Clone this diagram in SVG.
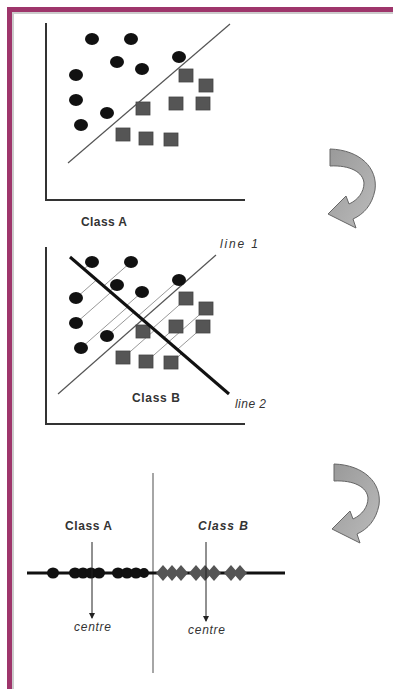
<svg xmlns="http://www.w3.org/2000/svg" width="393" height="689" viewBox="0 0 393 689">
<defs>
<style>
.axis{stroke:#333;stroke-width:2;fill:none}
.sep{stroke:#555;stroke-width:1.2;fill:none}
.proj{stroke:#999;stroke-width:1;fill:none}
.c{fill:#111}
.s{fill:#555;stroke:#444;stroke-width:0.8}
.d{fill:#555}
.lbl{font-family:"Liberation Sans",Arial,sans-serif;font-weight:bold;font-size:12px;fill:#333}
.it{font-family:"Liberation Sans",Arial,sans-serif;font-style:italic;font-size:12px;fill:#333}
.curve{fill:url(#g);stroke:#666;stroke-width:1}
</style>
<linearGradient id="g" x1="0" y1="0" x2="1" y2="1">
<stop offset="0" stop-color="#999"/>
<stop offset="1" stop-color="#bbb"/>
</linearGradient>
<marker id="ah" markerWidth="6" markerHeight="6" refX="5" refY="3" orient="auto" markerUnits="userSpaceOnUse">
<path d="M0,0 L6,3 L0,6 Z" fill="#222"/>
</marker>
<g id="dots">
<ellipse class="c" cx="92" cy="39" rx="7" ry="6"/>
<ellipse class="c" cx="131" cy="39" rx="7" ry="6"/>
<ellipse class="c" cx="117" cy="62" rx="7" ry="6"/>
<ellipse class="c" cx="142" cy="69" rx="7" ry="6"/>
<ellipse class="c" cx="179" cy="57" rx="7" ry="6"/>
<ellipse class="c" cx="76" cy="75" rx="7" ry="6"/>
<ellipse class="c" cx="76" cy="100" rx="7" ry="6"/>
<ellipse class="c" cx="107" cy="113" rx="7" ry="6"/>
<ellipse class="c" cx="81" cy="125" rx="7" ry="6"/>
<rect class="s" x="179" y="69" width="14" height="13"/>
<rect class="s" x="199" y="79" width="14" height="13"/>
<rect class="s" x="136" y="102" width="14" height="13"/>
<rect class="s" x="169" y="97" width="14" height="13"/>
<rect class="s" x="196" y="97" width="14" height="13"/>
<rect class="s" x="116" y="128" width="14" height="13"/>
<rect class="s" x="139" y="132" width="14" height="13"/>
<rect class="s" x="164" y="133" width="14" height="13"/>
</g>
<path id="curl" class="curve" d="M330,149 C360,150 378,168 375,190 C372,205 364,214 353,219 L356,228 L328,214 L346,196 L349,204 C358,200 364,192 364,183 C363,172 350,165 330,166 Z"/>
</defs>

<g id="frame">
<rect x="12" y="12" width="381" height="2" fill="#ccc"/>
<rect x="12" y="12" width="2" height="677" fill="#ccc"/>
<rect x="7" y="7" width="386" height="5" fill="#9e356b"/>
<rect x="7" y="7" width="5" height="682" fill="#9e356b"/>
</g>

<g id="plot1">
<path class="axis" d="M46,23 V200 H245"/>
<path class="sep" d="M68,163 L230,24"/>
<use href="#dots"/>
<text class="lbl" x="81" y="226" textLength="46">Class A</text>
</g>

<g id="arrow1">
<use href="#curl"/>
</g>

<g id="plot2">
<path class="axis" d="M46,247 V424 H245"/>
<g id="projections">
<path class="proj" d="M92,262 L84,269 M131,262 L103.7,286 M117,285 L109.8,291.3 M142,292 L126.5,305.7 M179,280 L138.3,315.8 M76,298 L96.6,279.9 M76,323 L110.9,292.3 M107,336 L134.1,312.2 M81,348 L127.8,306.8 M186,299 L152.7,328.3 M206,309 L168.6,341.9 M143,332 L149.9,325.9 M176,327 L163.7,337.8 M203,327 L177.4,349.5 M123,358 L154.8,330 M146,362 L168.7,342 M171,363 L181.9,353.4"/>
</g>
<path class="sep" d="M58,394 L216,255"/>
<use href="#dots" y="223"/>
<path d="M70,257 L229,394" stroke="#111" stroke-width="3" fill="none"/>
<text class="it" x="220" y="248" textLength="38">line 1</text>
<text class="it" x="235" y="408" textLength="31">line 2</text>
<text class="lbl" x="132" y="402" textLength="48">Class B</text>
</g>

<g id="arrow2">
<use href="#curl" x="4" y="315"/>
</g>

<g id="plot3">
<path d="M153,473 V673" stroke="#888" stroke-width="1.5" fill="none"/>
<path d="M27,573 H285" stroke="#111" stroke-width="3" fill="none"/>
<g id="proj-circles">
<ellipse class="c" cx="53" cy="573" rx="6" ry="5.5"/>
<ellipse class="c" cx="75" cy="573" rx="6" ry="5.5"/>
<ellipse class="c" cx="83" cy="573" rx="6" ry="5.5"/>
<ellipse class="c" cx="91" cy="573" rx="6" ry="5.5"/>
<ellipse class="c" cx="99" cy="573" rx="6" ry="5.5"/>
<ellipse class="c" cx="118" cy="573" rx="6" ry="5.5"/>
<ellipse class="c" cx="127" cy="573" rx="6" ry="5.5"/>
<ellipse class="c" cx="136" cy="573" rx="6" ry="5.5"/>
<ellipse class="c" cx="144" cy="573" rx="5" ry="5"/>
</g>
<g id="proj-diamonds">
<path class="d" d="M163,565 l7,8 l-7,8 l-7,-8 Z"/>
<path class="d" d="M172,565 l7,8 l-7,8 l-7,-8 Z"/>
<path class="d" d="M181,565 l7,8 l-7,8 l-7,-8 Z"/>
<path class="d" d="M196,565 l7,8 l-7,8 l-7,-8 Z"/>
<path class="d" d="M205,565 l7,8 l-7,8 l-7,-8 Z"/>
<path class="d" d="M214,565 l7,8 l-7,8 l-7,-8 Z"/>
<path class="d" d="M231,565 l7,8 l-7,8 l-7,-8 Z"/>
<path class="d" d="M240,565 l7,8 l-7,8 l-7,-8 Z"/>
</g>
<text class="lbl" x="65" y="530" textLength="47">Class A</text>
<text class="lbl" x="198" y="530" textLength="50" font-style="italic">Class B</text>
<g id="centres">
<path d="M92,542 V618" stroke="#222" stroke-width="1" marker-end="url(#ah)"/>
<path d="M206,542 V621" stroke="#222" stroke-width="1" marker-end="url(#ah)"/>
</g>
<text class="it" x="74" y="631" textLength="37">centre</text>
<text class="it" x="188" y="634" textLength="37">centre</text>
</g>
</svg>
